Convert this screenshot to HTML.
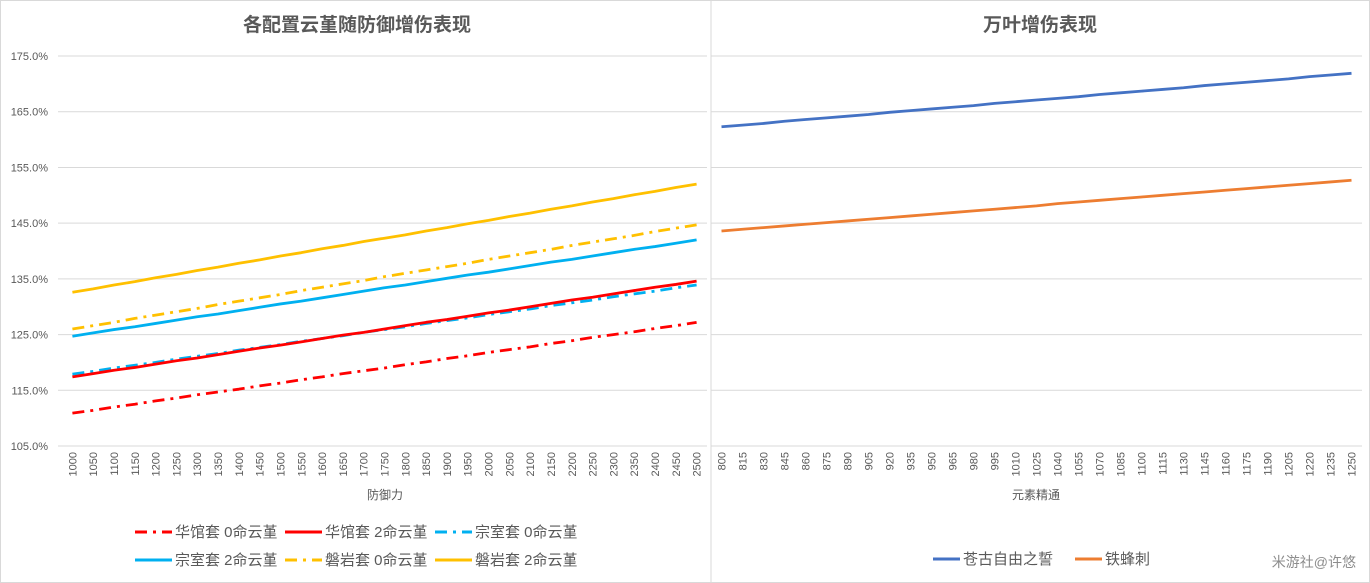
<!DOCTYPE html>
<html><head><meta charset="utf-8"><style>
body{margin:0;background:#fff;}
svg{display:block;font-family:"Liberation Sans","Noto Sans CJK SC",sans-serif;}
</style></head><body>
<svg id="c" width="1370" height="583">
<rect x="0.5" y="0.5" width="1369" height="582" fill="#fff" stroke="#d9d9d9"/>
<line x1="711" y1="1" x2="711" y2="582" stroke="#d9d9d9"/>
<text x="357" y="31" text-anchor="middle" font-size="19" font-weight="bold" fill="#595959">各配置云堇随防御增伤表现</text>
<text x="1040" y="31" text-anchor="middle" font-size="19" font-weight="bold" fill="#595959">万叶增伤表现</text>
<g id="grid"></g><g id="axes"></g><g id="series"></g>
<text x="385" y="499" text-anchor="middle" font-size="12" fill="#595959">防御力</text>
<text x="1036" y="499" text-anchor="middle" font-size="12" fill="#595959">元素精通</text>
<g id="legend"></g>
<text x="1356" y="567" text-anchor="end" font-size="14" fill="#8c8c8c">米游社@许悠</text>
</svg>
<script>
const leftCats=[1000,1050,1100,1150,1200,1250,1300,1350,1400,1450,1500,1550,1600,1650,1700,1750,1800,1850,1900,1950,2000,2050,2100,2150,2200,2250,2300,2350,2400,2450,2500];
const rightCats=[800,815,830,845,860,875,890,905,920,935,950,965,980,995,1010,1025,1040,1055,1070,1085,1100,1115,1130,1145,1160,1175,1190,1205,1220,1235,1250];
const yTicks=[105,115,125,135,145,155,165,175];
const hg0=[110.9,111.4,112.0,112.5,113.1,113.6,114.2,114.7,115.2,115.8,116.3,116.9,117.4,118.0,118.5,119.0,119.6,120.1,120.7,121.2,121.8,122.3,122.8,123.4,123.9,124.5,125.0,125.5,126.1,126.6,127.2];
const hg2=[117.4,118.0,118.6,119.1,119.7,120.3,120.8,121.4,122.0,122.6,123.1,123.7,124.3,124.9,125.4,126.0,126.6,127.2,127.7,128.3,128.9,129.4,130.0,130.6,131.2,131.7,132.3,132.9,133.5,134.0,134.6];
const zs0=[117.9,118.4,119.0,119.5,120.0,120.6,121.1,121.6,122.2,122.7,123.2,123.8,124.3,124.8,125.4,125.9,126.4,127.0,127.5,128.0,128.6,129.1,129.6,130.2,130.7,131.2,131.8,132.3,132.8,133.4,133.9];
const zs2=[124.7,125.3,125.9,126.4,127.0,127.6,128.2,128.7,129.3,129.9,130.5,131.0,131.6,132.2,132.8,133.4,133.9,134.5,135.1,135.7,136.2,136.8,137.4,138.0,138.5,139.1,139.7,140.3,140.8,141.4,142.0];
const py0=[126.0,126.6,127.2,127.9,128.5,129.1,129.7,130.4,131.0,131.6,132.2,132.9,133.5,134.1,134.7,135.4,136.0,136.6,137.2,137.8,138.5,139.1,139.7,140.3,141.0,141.6,142.2,142.8,143.5,144.1,144.7];
const py2=[132.6,133.2,133.9,134.5,135.2,135.8,136.5,137.1,137.8,138.4,139.1,139.7,140.4,141.0,141.7,142.3,142.9,143.6,144.2,144.9,145.5,146.2,146.8,147.5,148.1,148.8,149.4,150.1,150.7,151.4,152.0];
const cangu=[162.3,162.6,162.9,163.3,163.6,163.9,164.2,164.5,164.9,165.2,165.5,165.8,166.1,166.5,166.8,167.1,167.4,167.7,168.1,168.4,168.7,169.0,169.3,169.7,170.0,170.3,170.6,170.9,171.3,171.6,171.9];
const tiefeng=[143.6,143.9,144.2,144.5,144.8,145.1,145.4,145.7,146.0,146.3,146.6,146.9,147.2,147.5,147.8,148.1,148.5,148.8,149.1,149.4,149.7,150.0,150.3,150.6,150.9,151.2,151.5,151.8,152.1,152.4,152.7];

const NS="http://www.w3.org/2000/svg";
function mk(tag,attrs,parent){const e=document.createElementNS(NS,tag);for(const k in attrs)e.setAttribute(k,attrs[k]);parent.appendChild(e);return e;}
const Y=v=>446-(v-105)*5.571;
const L0=62,L1=707,R0=711,R1=1362;
const xL=i=>L0+(i+0.5)*(L1-L0)/leftCats.length;
const xR=i=>R0+(i+0.5)*(R1-R0)/rightCats.length;
const grid=document.getElementById('grid'),axes=document.getElementById('axes'),ser=document.getElementById('series'),leg=document.getElementById('legend');
yTicks.forEach((t,i)=>{
  const g1=mk('line',{x1:L0-4,x2:L1,y1:Y(t),y2:Y(t),stroke:'#d9d9d9'},grid);
  
  
  const g2=mk('line',{x1:R0,x2:R1,y1:Y(t),y2:Y(t),stroke:'#d9d9d9'},grid);
  
  
  const tx=mk('text',{x:48,y:Y(t)+4,'text-anchor':'end','font-size':11,fill:'#595959'},axes);
  tx.textContent=t.toFixed(1)+'%';
  
  
});
function xlabels(cats,xf,nm){
  cats.forEach((c,i)=>{
    const x=xf(i);
    const t=mk('text',{x:0,y:0,'text-anchor':'end','font-size':11,fill:'#595959',transform:`translate(${x+4},452) rotate(-90)`},axes);
    t.textContent=c;
    
    
  });
}
xlabels(leftCats,xL,'left-x-tick-label');
xlabels(rightCats,xR,'right-x-tick-label');
function line(data,xf,color,dash,nm){
  const p=mk('polyline',{points:data.map((v,i)=>xf(i)+','+Y(v)).join(' '),fill:'none',stroke:color,'stroke-width':2.8,'stroke-dasharray':dash||'none','stroke-linejoin':'round'},ser);
  
  
}
const DD='12,6,3,6';
line(hg0,xL,'#ff0000',DD,'line-huaguan-c0');
line(zs0,xL,'#00b0f0',DD,'line-zongshi-c0');
line(py0,xL,'#ffc000',DD,'line-panyan-c0');
line(hg2,xL,'#ff0000',null,'line-huaguan-c2');
line(zs2,xL,'#00b0f0',null,'line-zongshi-c2');
line(py2,xL,'#ffc000',null,'line-panyan-c2');
line(cangu,xR,'#4472c4',null,'line-canggu');
line(tiefeng,xR,'#ed7d31',null,'line-tiefeng');
function legendEntry(x,y,color,dash,label,w){
  const g=mk('g',{},leg);
  
  
  mk('line',{x1:x,x2:x+w,y1:y,y2:y,stroke:color,'stroke-width':3,'stroke-dasharray':dash||'none'},g);
  const t=mk('text',{x:x+w+3,y:y+5,'font-size':15,fill:'#595959'},g);
  t.textContent=label;
}
legendEntry(135,532,'#ff0000',DD,'华馆套 0命云堇',37);
legendEntry(285,532,'#ff0000',null,'华馆套 2命云堇',37);
legendEntry(435,532,'#00b0f0',DD,'宗室套 0命云堇',37);
legendEntry(135,560,'#00b0f0',null,'宗室套 2命云堇',37);
legendEntry(285,560,'#ffc000',DD,'磐岩套 0命云堇',37);
legendEntry(435,560,'#ffc000',null,'磐岩套 2命云堇',37);
legendEntry(933,559,'#4472c4',null,'苍古自由之誓',27);
legendEntry(1075,559,'#ed7d31',null,'铁蜂刺',27);
</script>
</body></html>
